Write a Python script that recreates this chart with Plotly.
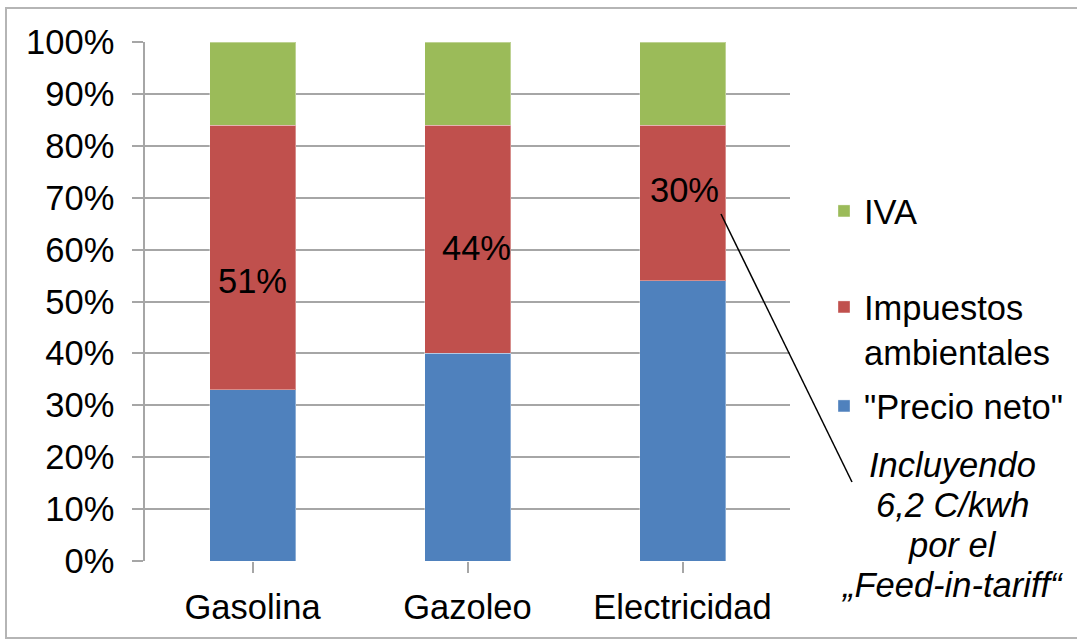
import plotly.graph_objects as go

categories = ["Gasolina", "Gazoleo", "Electricidad"]
precio_neto = [33, 40, 54]
impuestos = [51, 44, 30]
iva = [16, 16, 16]
y_ticks = [0, 10, 20, 30, 40, 50, 60, 70, 80, 90, 100]
y_tick_labels = [f"{v}%" for v in y_ticks]
label_texts = ["51%", "44%", "30%"]
label_x = [0.0, 1.04, 2.01]
label_y = [53.9, 60.3, 71.5]
note_lines = ["Incluyendo", "6,2 C/kwh", "por el", "„Feed-in-tariff“"]

FONT = "Liberation Sans, Arial, sans-serif"
FS = 34.5
W, H = 1077, 640
L, R, T, B = 145, 790, 42, 561

def px_x(p):
    return (p - L) / (R - L)

def px_y(p):
    return (B - p) / (B - T)

fig = go.Figure()
series = [("\"Precio neto\"", precio_neto, "#4f81bd", "legend3", 377),
          ("Impuestos<br>ambientales", impuestos, "#c0504d", "legend2", 278),
          ("IVA", iva, "#9bbb59", "legend", 182)]
legend_layout = {}
for name, vals, col, leg, top in series:
    fig.add_trace(go.Bar(x=list(range(len(categories))), y=vals, name=name,
                         marker=dict(color=col, line=dict(color="rgba(255,255,255,0.35)", width=1)),
                         width=0.4, legend=leg))
    legend_layout[leg] = dict(x=px_x(824), y=px_y(top), xanchor="left", yanchor="top",
                              valign="top", font=dict(size=FS, family=FONT),
                              bgcolor="rgba(0,0,0,0)")

fig.update_layout(
    barmode="stack",
    width=W, height=H,
    margin=dict(l=L, r=W - R, t=T, b=H - B, pad=0, autoexpand=False),
    paper_bgcolor="white", plot_bgcolor="white",
    font=dict(family=FONT, size=FS, color="#000000"),
    showlegend=True,
    **legend_layout,
)
fig.update_xaxes(
    tickmode="array", tickvals=list(range(len(categories))), ticktext=categories,
    range=[-0.5, len(categories) - 0.5], tickson="boundaries",
    ticks="outside", ticklen=11, tickcolor="#a6a6a6", tickwidth=1.5,
    showline=False, showgrid=False, zeroline=False, automargin=False,
    ticklabelstandoff=5, tickfont=dict(size=FS, family=FONT),
)
fig.update_yaxes(
    range=[0, 100], tickmode="array", tickvals=y_ticks, ticktext=y_tick_labels,
    ticks="outside", ticklen=11, tickcolor="#a6a6a6", tickwidth=1.5,
    showgrid=True, gridcolor="#a6a6a6", gridwidth=1.5,
    showline=True, linecolor="#a6a6a6", linewidth=1.5, automargin=False,
    zeroline=False, ticklabelstandoff=11, tickfont=dict(size=FS, family=FONT),
)

for t, xx, yy in zip(label_texts, label_x, label_y):
    fig.add_annotation(x=xx, y=yy, xref="x", yref="y", text=t, showarrow=False,
                       font=dict(size=FS, family=FONT, color="#000000"))

fig.add_shape(type="line", xref="paper", yref="paper",
              x0=px_x(721), y0=px_y(214), x1=px_x(852), y1=px_y(482),
              line=dict(color="#000000", width=1.5))

for i, line in enumerate(note_lines):
    fig.add_annotation(xref="paper", yref="paper", x=px_x(952), y=px_y(465 + 40 * i),
                       text=f"<i>{line}</i>", showarrow=False, xanchor="center", yanchor="middle",
                       font=dict(size=FS, family=FONT, color="#000000"))

fig.add_shape(type="rect", xref="paper", yref="paper",
              x0=px_x(6), y0=px_y(638), x1=px_x(1090), y1=px_y(8),
              line=dict(color="#b5b5b5", width=2), layer="below")

fig.write_html("out.html")
